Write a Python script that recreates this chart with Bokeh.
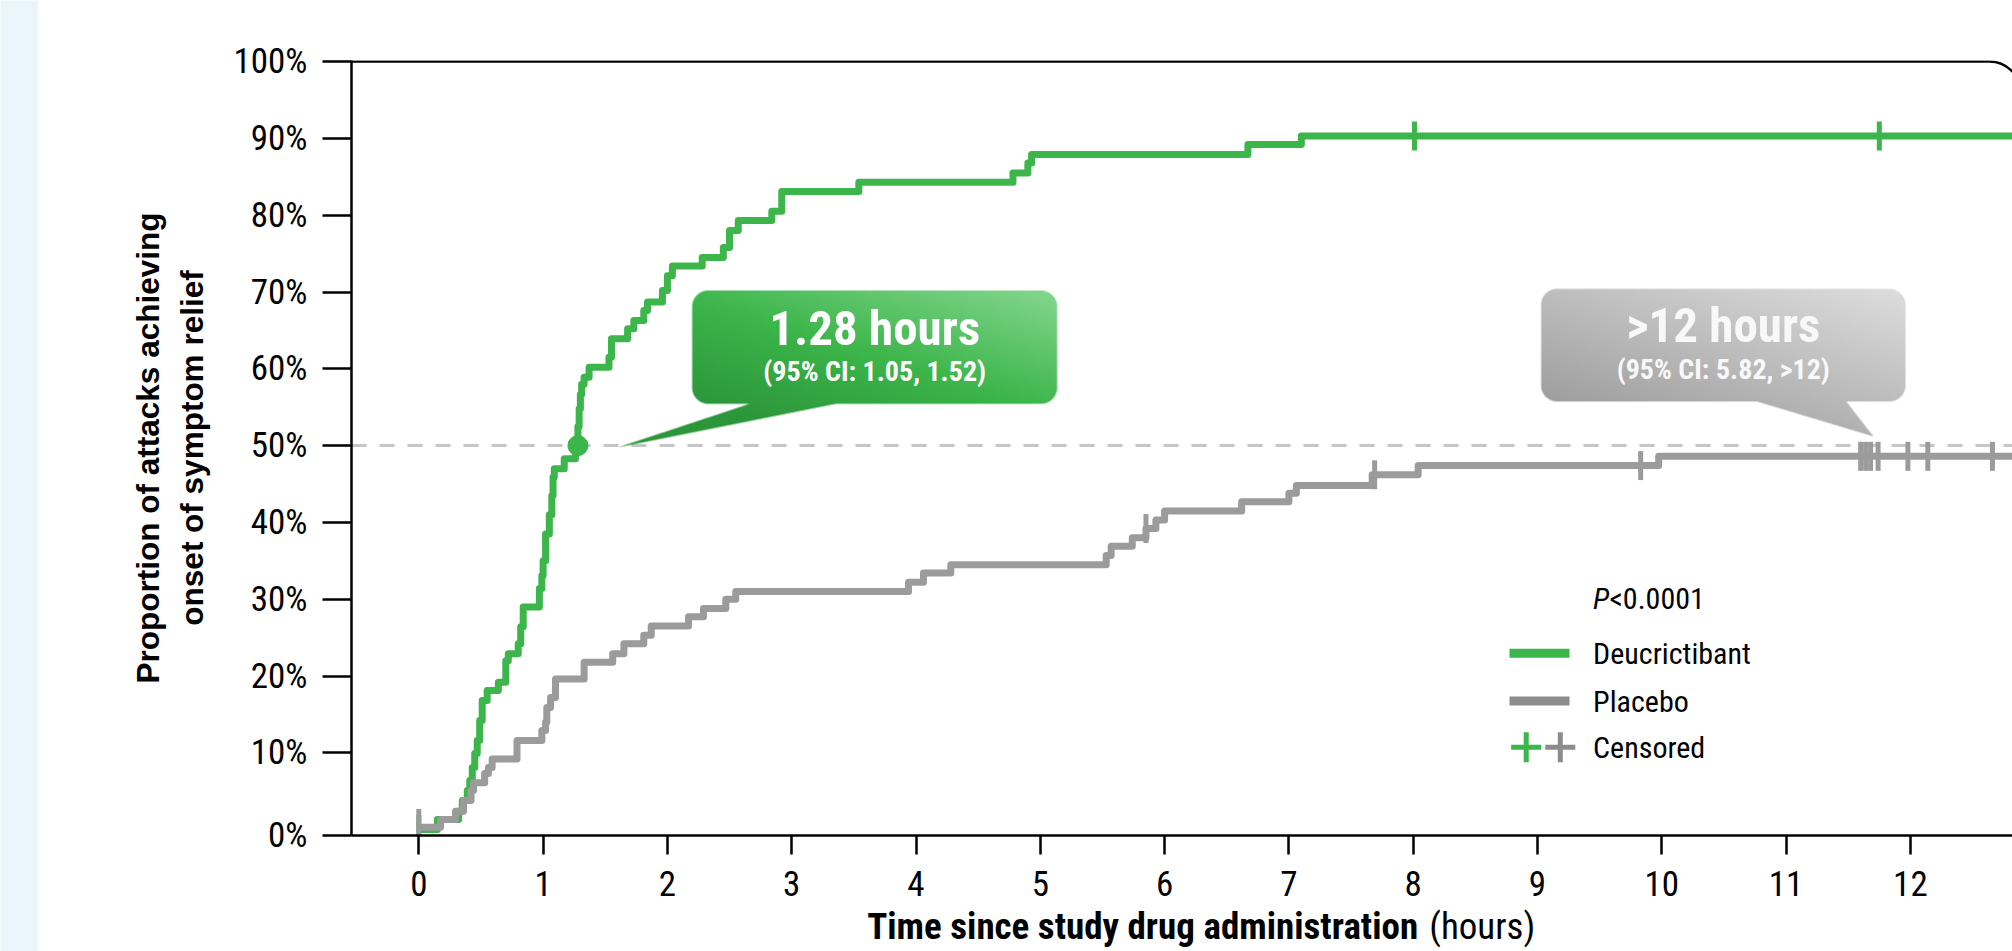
import numpy as np
from bokeh.plotting import figure
from bokeh.layouts import row, column
from bokeh.models import Range1d, FixedTicker, Span, Label
from bokeh.embed import file_html
from bokeh.resources import INLINE

# ---------------- data ----------------
deu_time = [0.00, 0.15, 0.32, 0.35, 0.39, 0.41, 0.43, 0.45, 0.47, 0.49, 0.51, 0.55, 0.64,
            0.70, 0.72, 0.80, 0.82, 0.84, 0.97, 0.99, 1.00, 1.02, 1.05, 1.07, 1.08, 1.09,
            1.17, 1.26, 1.28, 1.29, 1.30, 1.31, 1.33, 1.37, 1.53, 1.55, 1.68, 1.73, 1.81,
            1.84, 1.96, 2.00, 2.04, 2.28, 2.45, 2.50, 2.57, 2.84, 2.92, 3.54, 4.78, 4.90,
            4.93, 6.67, 7.10, 12.90]
deu_pct = [0.0, 1.3, 2.4, 3.8, 5.1, 6.4, 8.1, 9.9, 11.6, 14.2, 16.8, 18.1, 19.2,
           22.0, 22.9, 24.2, 26.4, 29.0, 31.4, 33.1, 35.0, 38.5, 41.0, 43.5, 45.9, 47.0,
           48.3, 49.6, 52.5, 54.8, 56.7, 58.0, 58.9, 60.2, 61.5, 63.9, 65.2, 66.3, 67.6,
           68.7, 70.2, 72.1, 73.4, 74.5, 75.8, 78.0, 79.3, 80.5, 83.1, 84.3, 85.5, 86.8,
           87.9, 89.2, 90.3, 90.3]
pbo_time = [0.00, 0.175, 0.295, 0.36, 0.42, 0.44, 0.53, 0.56, 0.59, 0.79, 0.99, 1.02,
            1.03, 1.06, 1.10, 1.33, 1.56, 1.65, 1.81, 1.87, 2.17, 2.29, 2.47, 2.55, 3.94,
            4.06, 4.28, 5.53, 5.57, 5.74, 5.85, 5.93, 6.00, 6.62, 7.00, 7.06, 7.67, 8.04,
            9.975, 12.90]
pbo_pct = [0.3, 1.3, 2.4, 3.8, 5.1, 6.1, 7.3, 8.1, 9.2, 11.6, 12.9, 14.0,
           15.9, 17.2, 19.6, 21.8, 22.9, 24.2, 25.3, 26.5, 27.7, 28.8, 30.0, 31.0, 32.2,
           33.4, 34.5, 35.7, 36.9, 38.0, 39.2, 40.3, 41.5, 42.7, 43.8, 44.8, 46.2, 47.4,
           48.6, 48.6]
deu_cens_time = [0.0, 8.01, 11.75]
deu_cens_pct = [0.0, 90.3, 90.3]
pbo_cens_time = [0.0, 5.85, 7.69, 9.83, 11.60, 11.64, 11.68, 11.74, 11.98, 12.14, 12.66]
pbo_cens_pct = [0.8, 39.2, 46.2, 47.4, 48.6, 48.6, 48.6, 48.6, 48.6, 48.6, 48.6]
median_time = [1.28]
median_pct = [50.0]
x_ticks = list(range(0, 13))
y_tick_values = [0, 10, 20, 30, 40, 50, 60, 70, 80, 90, 100]
y_tick_labels = [f"{v}%" for v in y_tick_values]
series_names = ["Deucrictibant", "Placebo", "Censored"]
median_texts = ["1.28 hours", ">12 hours"]
ci_texts = ["(95% CI: 1.05, 1.52)", "(95% CI: 5.82, >12)"]
p_value_text = "<0.0001"
x_title_bold = "Time since study drug administration"
x_title_unit = "(hours)"
y_title = "Proportion of attacks achieving\nonset of symptom relief"

# ---------------- layout (page pixels, page has no margin) ----------------
PAGE_W, PAGE_H = 2012, 951
STRIP_W = 38
MAIN_W, MAIN_H = PAGE_W - STRIP_W, 905
TITLE_H = PAGE_H - MAIN_H
X0PX, PXH = 418.3, 124.3      # page x of t=0, px per hour
Y0PX, PXP = 829.1, 7.68       # page y of 0 %, px per percent


def tx(X):
    return (X - X0PX) / PXH


def ty(Y):
    return (Y0PX - Y) / PXP


FRAME_L, FRAME_R, FRAME_T, FRAME_B = 351, PAGE_W, 60, 835
x_start, x_end = tx(FRAME_L), tx(FRAME_R)
y_start, y_end = ty(FRAME_B), ty(FRAME_T)

COND = "'Roboto Condensed', 'Liberation Sans Narrow', 'DejaVu Sans Condensed', sans-serif"
GREEN = "#3CB54A"
GRAY = "#9B9B9B"
LEG_GRAY = "#8C8C8C"
STRIP = "#EAF6FC"

xr = Range1d(x_start, x_end)
p = figure(width=MAIN_W, height=MAIN_H, x_range=xr, y_range=Range1d(y_start, y_end),
           output_backend="svg", toolbar_location=None,
           min_border_left=FRAME_L - STRIP_W, min_border_right=0,
           min_border_top=FRAME_T, min_border_bottom=MAIN_H - FRAME_B)
p.xgrid.grid_line_color = None
p.ygrid.grid_line_color = None
p.outline_line_color = None
p.background_fill_color = "white"
p.border_fill_color = "white"

# axes
ytick_pos = [y_start if v == 0 else float(v) for v in y_tick_values]
p.yaxis.ticker = FixedTicker(ticks=ytick_pos)
p.yaxis.major_label_overrides = {pos: lab for pos, lab in zip(ytick_pos, y_tick_labels)}
p.xaxis.ticker = FixedTicker(ticks=x_ticks)
for ax in (p.xaxis, p.yaxis):
    ax.axis_line_width = 2.5
    ax.axis_line_color = "black"
    ax.major_tick_line_width = 2.5
    ax.major_tick_line_color = "black"
    ax.minor_tick_line_color = None
    ax.major_tick_in = 0
    ax.major_label_text_font = COND
    ax.major_label_text_font_size = "35px"
    ax.major_label_text_color = "black"
p.yaxis.major_tick_out = 29
p.yaxis.major_label_standoff = 15
p.xaxis.major_tick_out = 19
p.xaxis.major_label_standoff = 16

p.yaxis.axis_label = y_title
p.yaxis.axis_label_text_font = "Liberation Sans"
p.yaxis.axis_label_text_font_style = "bold"
p.yaxis.axis_label_text_font_size = "31.5px"
p.yaxis.axis_label_text_line_height = 1.22
p.yaxis.axis_label_text_color = "black"
p.yaxis.axis_label_standoff = 21

# frame top line with rounded top-right corner
CORNER_X, CORNER_R = 1988.6, 32
p.line([x_start, tx(CORNER_X)], [100, 100], line_color="black", line_width=2.5)
p.arc(x=[tx(CORNER_X)], y=[ty(61.1 + CORNER_R)], radius=CORNER_R, radius_units="screen",
      start_angle=0, end_angle=np.pi / 2, line_color="black", line_width=2.5)

# 50 % reference line
p.add_layout(Span(location=50, dimension="width", line_color="#C6C6C6", line_width=3,
                  line_dash="15 13", level="underlay"))

# ---------------- curves ----------------
p.step(deu_time, deu_pct, mode="after", line_color=GREEN, line_width=7, line_join="round")
p.scatter(deu_cens_time, deu_cens_pct, marker="dash", angle=np.pi / 2, size=29,
          line_color=GREEN, line_width=5)
p.step(pbo_time, pbo_pct, mode="after", line_color=GRAY, line_width=7, line_join="round")
p.scatter(pbo_cens_time, pbo_cens_pct, marker="dash", angle=np.pi / 2, size=29,
          line_color=GRAY, line_width=5)
p.scatter(median_time, median_pct, size=20, fill_color=GREEN, line_color=GREEN)


# ---------------- callouts (gradient bubbles) ----------------
def callout(bx0, bx1, by0, by1, rad, tri, stops, ss=3):
    xs = [bx0, bx1] + [q[0] for q in tri]
    ys = [by0, by1] + [q[1] for q in tri]
    X0, X1 = int(np.floor(min(xs))) - 1, int(np.ceil(max(xs))) + 1
    Y0, Y1 = int(np.floor(min(ys))) - 1, int(np.ceil(max(ys))) + 1
    w, h = X1 - X0, Y1 - Y0
    gx = X0 + (np.arange(w * ss) + 0.5) / ss
    gy = Y0 + (np.arange(h * ss) + 0.5) / ss
    PX, PY = np.meshgrid(gx, gy)
    cx = np.clip(PX, bx0 + rad, bx1 - rad)
    cy = np.clip(PY, by0 + rad, by1 - rad)
    in_rect = ((PX - cx) ** 2 + (PY - cy) ** 2 <= rad ** 2) & (PX >= bx0) & (PX <= bx1) \
        & (PY >= by0) & (PY <= by1)
    (ax_, ay_), (bx_, by_), (cx_, cy_) = tri

    def side(x1, y1, x2, y2):
        return (PX - x2) * (y1 - y2) - (x1 - x2) * (PY - y2)
    d1, d2, d3 = side(ax_, ay_, bx_, by_), side(bx_, by_, cx_, cy_), side(cx_, cy_, ax_, ay_)
    neg = (d1 < 0) | (d2 < 0) | (d3 < 0)
    pos = (d1 > 0) | (d2 > 0) | (d3 > 0)
    in_tri = ~(neg & pos)
    cov = (in_rect | in_tri).reshape(h, ss, w, ss).mean(axis=(1, 3))
    pxc = X0 + np.arange(w) + 0.5
    pyc = Y0 + np.arange(h) + 0.5
    PXc, PYc = np.meshgrid(pxc, pyc)
    u = np.clip(((PXc - bx0) / (bx1 - bx0) + (by1 - PYc) / (by1 - by0)) / 2, 0, 1)
    spos = [s_[0] for s_ in stops]
    rgba = np.zeros((h, w, 4), dtype=np.uint8)
    for ch in range(3):
        rgba[..., ch] = np.interp(u, spos, [s_[1][ch] for s_ in stops]).astype(np.uint8)
    rgba[..., 3] = (cov * 255).astype(np.uint8)
    rgba = rgba[::-1]
    img = np.zeros((h, w), dtype=np.uint32)
    img.view(dtype=np.uint8).reshape((h, w, 4))[...] = rgba
    return img, X0, Y1, w, h


green_stops = [(0.0, (44, 150, 58)), (0.45, (60, 181, 74)), (1.0, (134, 215, 144))]
gray_stops = [(0.0, (158, 158, 158)), (0.5, (190, 190, 190)), (1.0, (222, 222, 222))]

bubbles = [
    dict(box=(691.7, 1056.7, 290.0, 403.3), tri=[(753, 402), (842, 402), (617, 447)],
         stops=green_stops, cx=874.2, c1=327.5, c2=371.0, color="white"),
    dict(box=(1540.6, 1905.0, 288.3, 401.0), tri=[(1753, 400), (1845, 400), (1873, 436)],
         stops=gray_stops, cx=1722.8, c1=325.0, c2=368.5, color="#F8F8F8"),
]
for i, b in enumerate(bubbles):
    bx0, bx1, by0, by1 = b["box"]
    img, X0, Y1, w, h = callout(bx0, bx1, by0, by1, 16, b["tri"], b["stops"])
    p.image_rgba(image=[img], x=tx(X0), y=ty(Y1), dw=w / PXH, dh=h / PXP)
    p.add_layout(Label(x=tx(b["cx"]), y=ty(b["c1"]), text=median_texts[i], text_font=COND,
                       text_font_style="bold", text_font_size="49px", text_color=b["color"],
                       text_align="center", text_baseline="middle"))
    p.add_layout(Label(x=tx(b["cx"]), y=ty(b["c2"]), text=ci_texts[i], text_font=COND,
                       text_font_style="bold", text_font_size="28px", text_color=b["color"],
                       text_align="center", text_baseline="middle"))

# ---------------- legend (manual) ----------------
LEG_TX = 1592.6
p.add_layout(Label(x=tx(LEG_TX), y=ty(598), text="P", text_font=COND, text_font_style="italic",
                   text_font_size="30px", text_color="black", text_baseline="middle"))
p.add_layout(Label(x=tx(1609.0), y=ty(598), text=p_value_text, text_font=COND,
                   text_font_size="30px", text_color="black", text_baseline="middle"))
p.segment(x0=[tx(1509)], y0=[ty(652.8)], x1=[tx(1569)], y1=[ty(652.8)],
          line_color=GREEN, line_width=9)
p.segment(x0=[tx(1509)], y0=[ty(700.5)], x1=[tx(1569)], y1=[ty(700.5)],
          line_color=LEG_GRAY, line_width=9)
p.scatter([tx(1525.7)], [ty(746.7)], marker="cross", size=30, line_color=GREEN, line_width=5)
p.scatter([tx(1559.8)], [ty(746.7)], marker="cross", size=30, line_color=LEG_GRAY, line_width=5)
for name, yc in zip(series_names, [653.3, 700.5, 747.0]):
    p.add_layout(Label(x=tx(LEG_TX), y=ty(yc), text=name, text_font=COND,
                       text_font_size="30px", text_color="black", text_baseline="middle"))

# ---------------- x axis title strip (bold + regular), frame aligned with main ----------------
t = figure(width=MAIN_W, height=TITLE_H, x_range=xr,
           y_range=Range1d(0, TITLE_H), output_backend="svg", toolbar_location=None,
           x_axis_location=None, y_axis_location=None,
           min_border_left=FRAME_L - STRIP_W, min_border_right=0,
           min_border_top=0, min_border_bottom=0)
t.outline_line_color = None
t.xgrid.grid_line_color = None
t.ygrid.grid_line_color = None
t.background_fill_color = "white"
t.border_fill_color = "white"
XT_CENTER = PAGE_H - 926.3
t.add_layout(Label(x=tx(1417.6), y=XT_CENTER, text=x_title_bold, text_font=COND,
                   text_font_style="bold", text_font_size="37px", text_color="black",
                   text_align="right", text_baseline="middle"))
t.add_layout(Label(x=tx(1428.8), y=XT_CENTER, text=x_title_unit, text_font=COND,
                   text_font_size="37px", text_color="black",
                   text_align="left", text_baseline="middle"))

# ---------------- light-blue page strip on the left ----------------
s = figure(width=STRIP_W, height=PAGE_H, output_backend="svg", toolbar_location=None,
           x_axis_location=None, y_axis_location=None, min_border=0)
s.outline_line_color = None
s.xgrid.grid_line_color = None
s.ygrid.grid_line_color = None
s.background_fill_color = STRIP
s.border_fill_color = STRIP

layout = row(s, column(p, t, spacing=0), spacing=0)
open("out.html", "w").write(file_html(layout, INLINE))
